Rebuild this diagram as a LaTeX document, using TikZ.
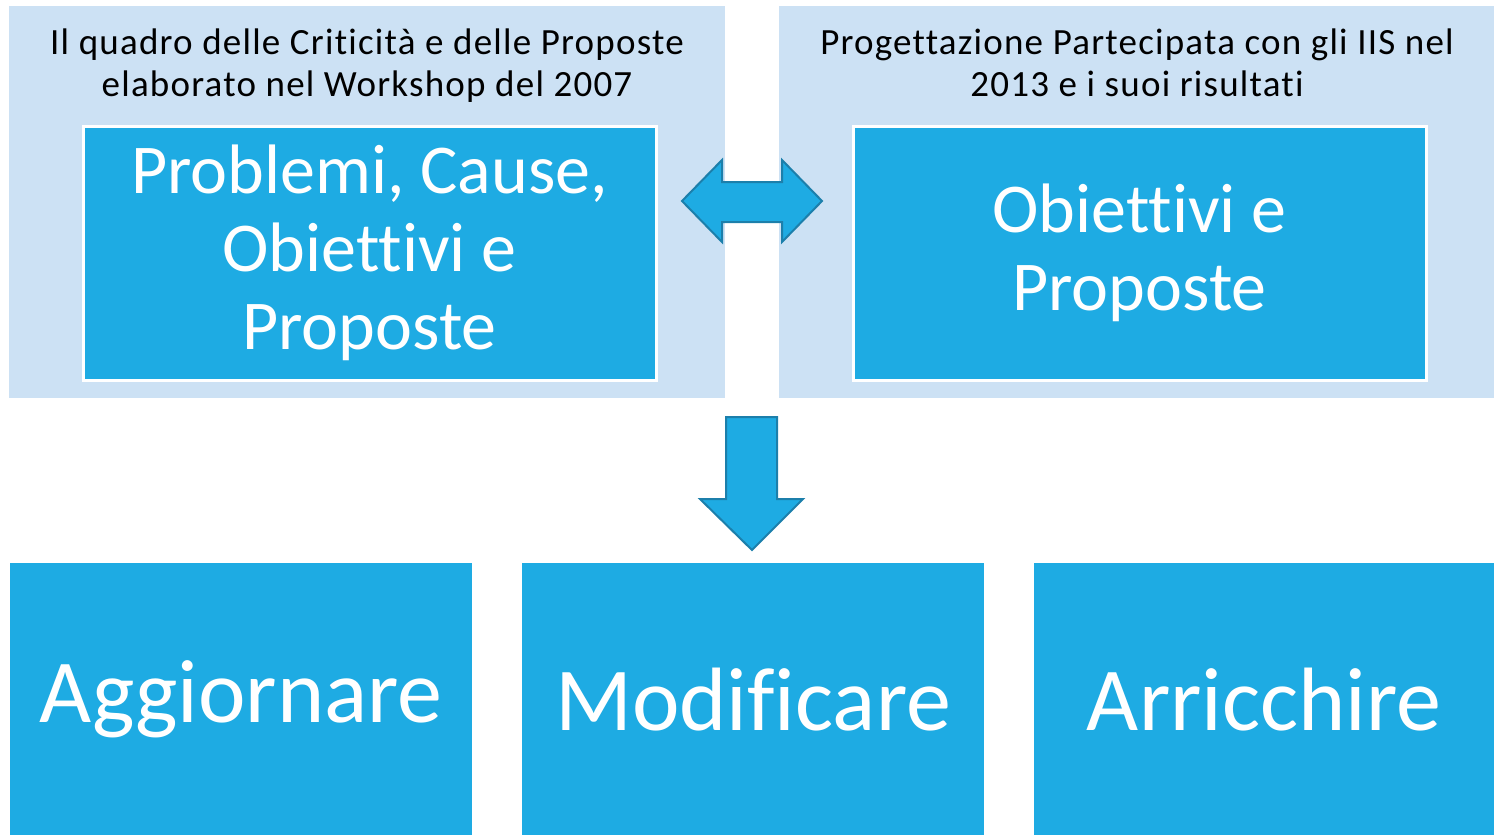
\documentclass[tikz,border=0pt]{standalone}
\usepackage{fontspec}
\setmainfont{Carlito}[Ligatures=NoCommon]
\newfontfamily\headfont{Carlito}[Ligatures=NoCommon,LetterSpace=3.3]
\definecolor{panel}{HTML}{CCE1F4}
\definecolor{boxblue}{HTML}{1EABE3}
\definecolor{edgeblue}{HTML}{1C7FAB}
\begin{document}
\begin{tikzpicture}[x=1pt,y=-1pt,
  panelbox/.style={fill=panel,draw=none,anchor=north west,inner sep=0pt},
  innerbox/.style={fill=boxblue,draw=white,line width=3pt,anchor=north west,inner sep=0pt,minimum width=573pt,minimum height=254pt},
  bottombox/.style={fill=boxblue,draw=none,anchor=north west,inner sep=0pt,minimum width=462pt,minimum height=272pt},
  headtext/.style={align=center,font=\headfont\fontsize{37}{42}\selectfont,text=black},
  boxtext/.style={align=center,font=\fontsize{70}{78}\selectfont,text=white},
  bigtext/.style={font=\fontsize{90}{100}\selectfont,text=white},
  blockarrow/.style={fill=boxblue,draw=edgeblue,line width=2pt,line join=miter}]
\useasboundingbox (0,0) rectangle (1494,835);
\node[panelbox,minimum width=716pt,minimum height=392pt] (pl) at (9,6) {};
\node[panelbox,minimum width=715pt,minimum height=392pt] (pr) at (779,6) {};
\node[headtext] (hl) at (367,66) {Il quadro delle Criticità e delle Proposte\\elaborato nel Workshop del 2007};
\node[headtext] (hr) at (1137,63) {Progettazione Partecipata con gli IIS nel\\2013 e i suoi risultati};
\node[innerbox] (bl) at (81.5,124.5) {};
\node[innerbox] (br) at (851.5,124.5) {};
\node[boxtext] (tl) at (bl.center) {Problemi, Cause,\\Obiettivi e\\Proposte};
\node[boxtext] (tr) at (br.center) {Obiettivi e\\Proposte};
% double arrow
\draw[blockarrow] (682,201) -- (722,160) -- (722,182) -- (782,182) -- (782,160) -- (822,201)
  -- (782,242) -- (782,222) -- (722,222) -- (722,242) -- cycle;
% down arrow
\draw[blockarrow] (726,417) -- (777,417) -- (777,499) -- (803,499) -- (752,550) -- (700,499) -- (726,499) -- cycle;
\node[bottombox] (b1) at (10,563) {};
\node[bottombox] (b2) at (522,563) {};
\node[bottombox,minimum width=460pt] (b3) at (1034,563) {};
\node[bigtext] (t1) at (b1.center) {Aggiornare};
\node[bigtext] (t2) at (b2.center) {Modificare};
\node[bigtext] (t3) at (b3.center) {Arricchire};
\end{tikzpicture}
\end{document}
